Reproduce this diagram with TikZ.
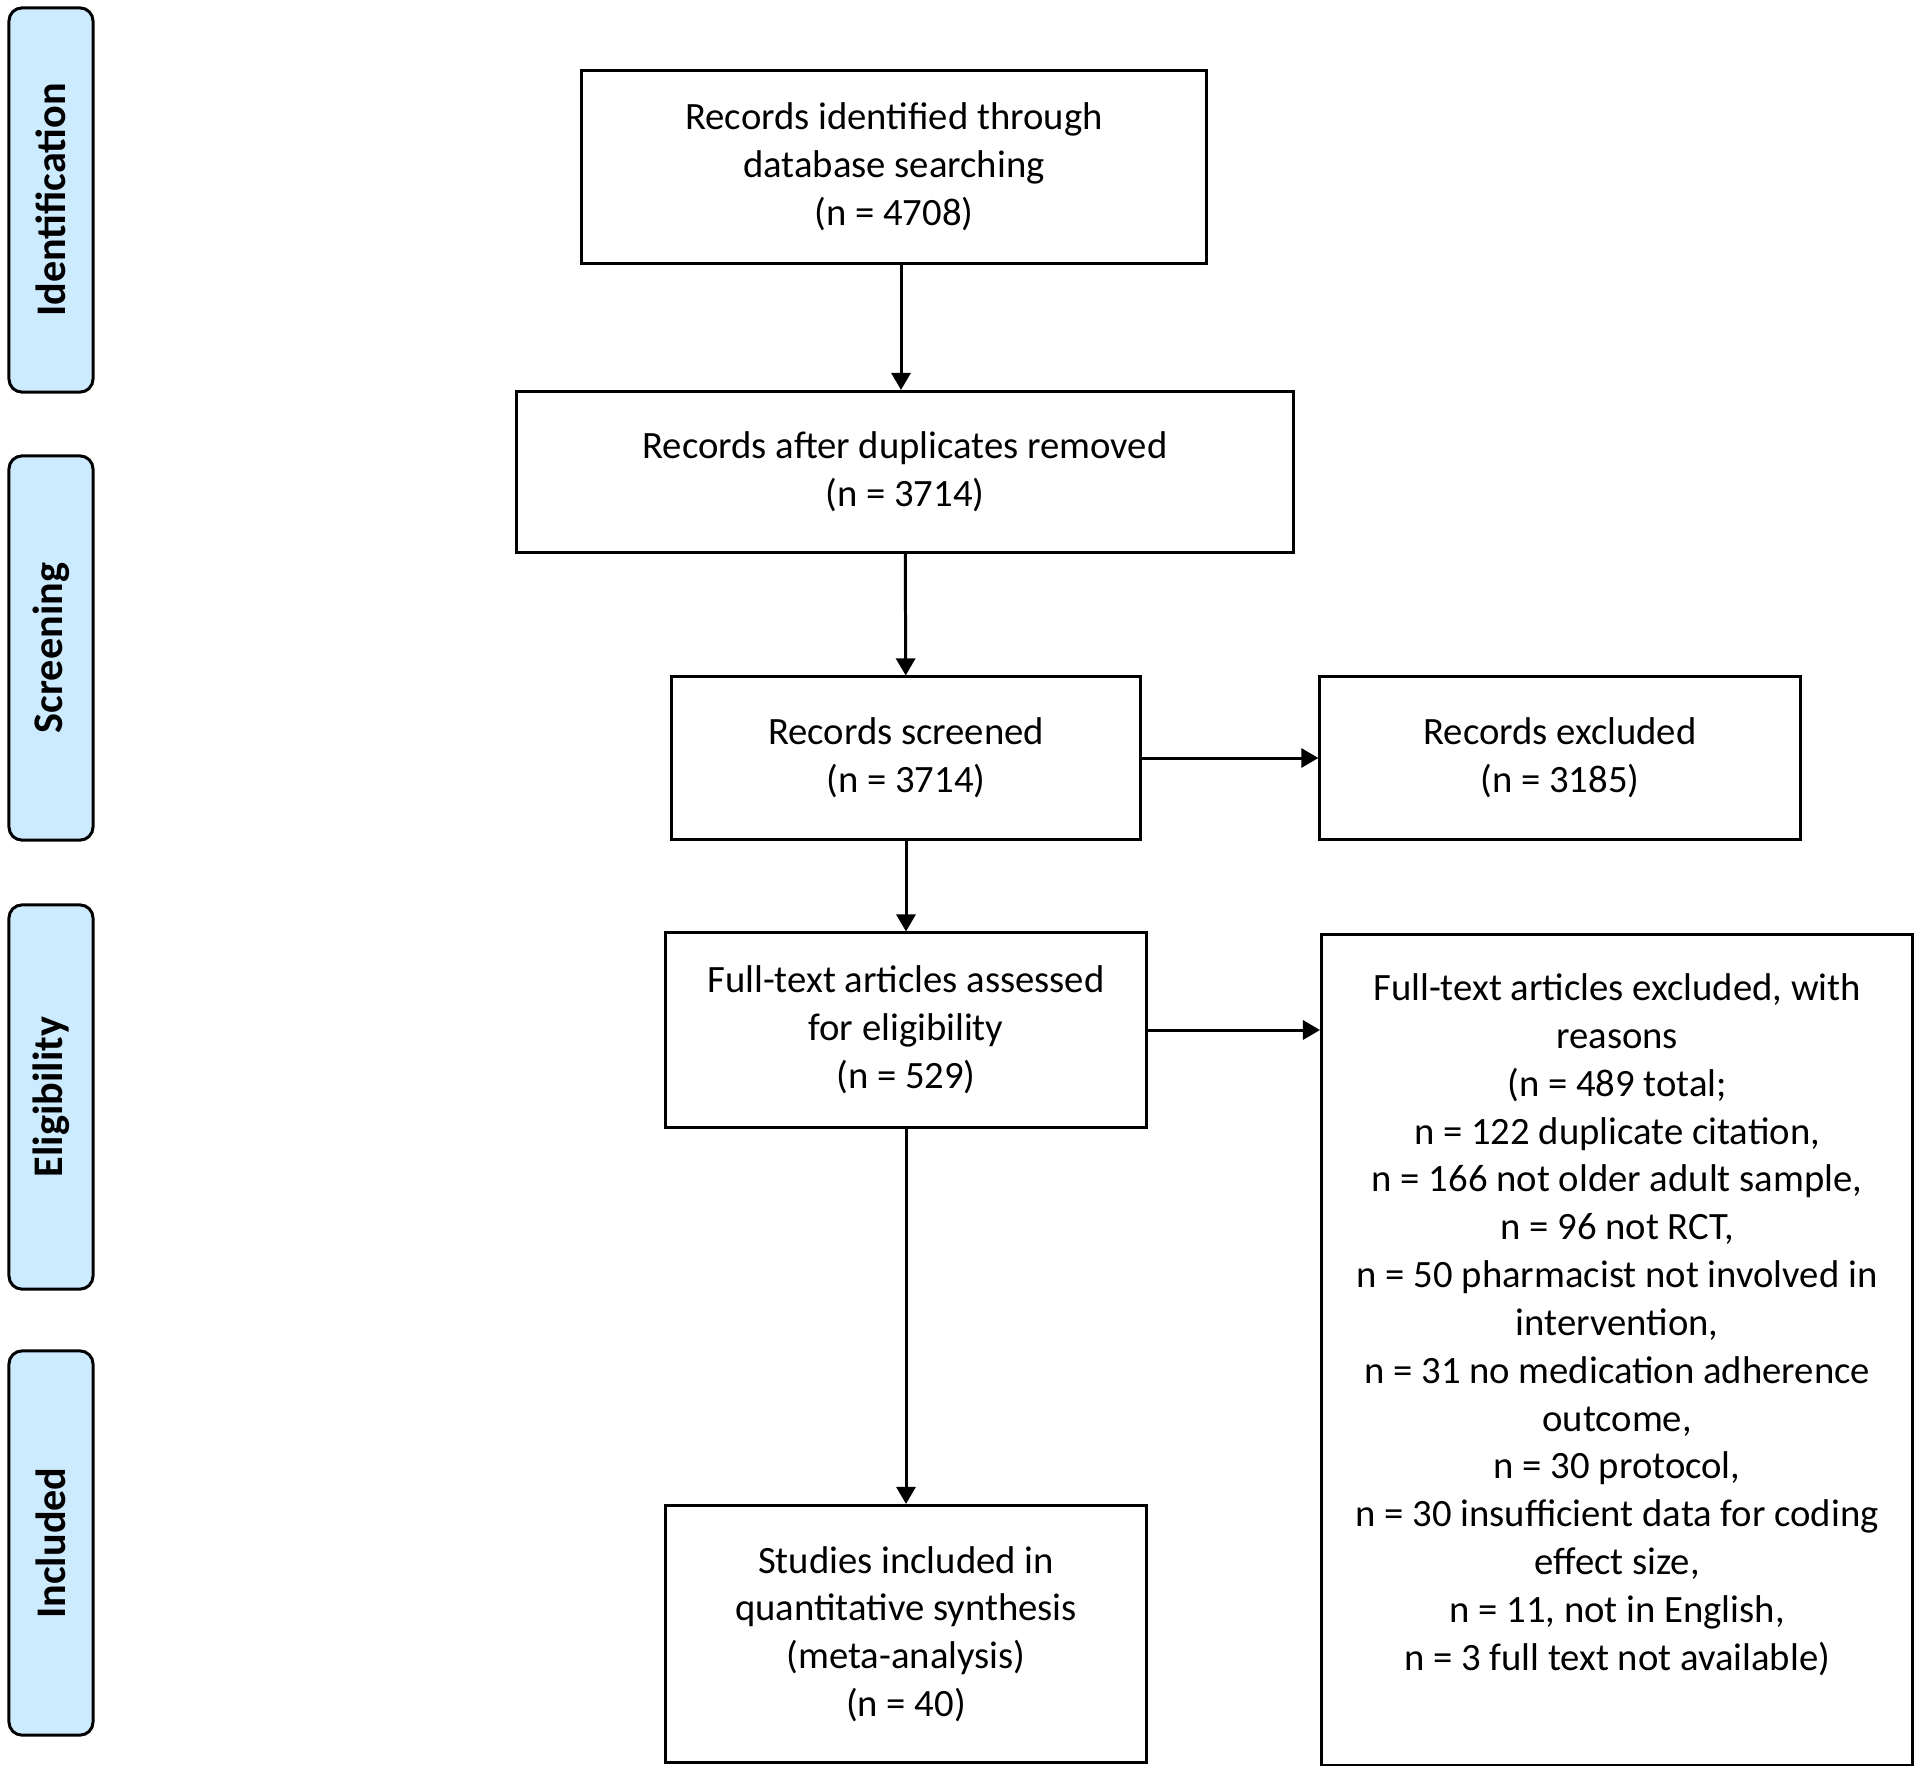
\documentclass[tikz,border=0pt]{standalone}
\usepackage{fontspec}
\setmainfont{Carlito}
\usetikzlibrary{positioning,arrows.meta}
\definecolor{phaseblue}{RGB}{205,235,255}

\begin{document}
\begin{tikzpicture}[x=0.01cm,y=-0.01cm,
    txt/.style={align=center,inner sep=0pt,font=\fontsize{11}{13.6}\selectfont},
    box/.style={txt,draw,line width=0.85pt},
    phase/.style={draw,line width=0.85pt,rounded corners=0.13cm,fill=phaseblue,rotate=90,
      minimum width=3.84cm,minimum height=0.84cm,inner sep=0pt,font=\fontsize{12}{14}\selectfont\bfseries},
    arr/.style={-{Triangle[length=0.17cm,width=0.19cm]},line width=0.85pt}]
  \useasboundingbox (0,0) rectangle (1920,1772);
  % phases on the left
  \path
    (51,200)    node[phase] (ident) {Identification}
    (51,648)    node[phase] (screen) {Screening}
    (51,1097)   node[phase] (elig)  {Eligibility}
    (51,1543)   node[phase] (incl)  {Included};
  % main flow
  \path
    (894,167)   node[box,minimum width=6.24cm,minimum height=1.92cm] (found)
      {Records identified through\\database searching\\(n = 4708)}
    (905,472)   node[box,minimum width=7.77cm,minimum height=1.61cm] (nodup)
      {Records after duplicates removed\\(n = 3714)}
    (906,758)   node[box,minimum width=4.69cm,minimum height=1.62cm] (screened)
      {Records screened\\(n = 3714)}
    (1560,758)  node[box,minimum width=4.80cm,minimum height=1.62cm] (excl)
      {Records excluded\\(n = 3185)}
    (906,1030)  node[box,minimum width=4.80cm,minimum height=1.94cm] (full)
      {Full-text articles assessed\\for eligibility\\(n = 529)}
    (906,1634)  node[box,minimum width=4.80cm,minimum height=2.57cm] (incd)
      {Studies included in\\quantitative synthesis\\(meta-analysis)\\(n = 40)};
  \node[box,anchor=north west,minimum width=5.91cm,minimum height=8.30cm] (fullex) at (1320,933) {};
  \node[txt,below=0.40cm of fullex.north] (fullextxt)
    {Full-text articles excluded, with\\reasons\\(n = 489 total;\\n = 122 duplicate citation,\\
     n = 166 not older adult sample,\\n = 96 not RCT,\\n = 50 pharmacist not involved in\\
     intervention,\\n = 31 no medication adherence\\outcome,\\n = 30 protocol,\\
     n = 30 insufficient data for coding\\effect size,\\n = 11, not in English,\\
     n = 3 full text not available)};
  % arrows
  \draw[arr] ([xshift=0.07cm]found.south) -- ([xshift=0.07cm]found.south |- nodup.north);
  \draw[arr] (nodup) -- (screened);
  \draw[arr] (screened) -- (excl);
  \draw[arr] (screened) -- (full);
  \draw[arr] (full.east) -- (full.east -| fullex.west);
  \draw[arr] (full) -- (incd);
\end{tikzpicture}
\end{document}
